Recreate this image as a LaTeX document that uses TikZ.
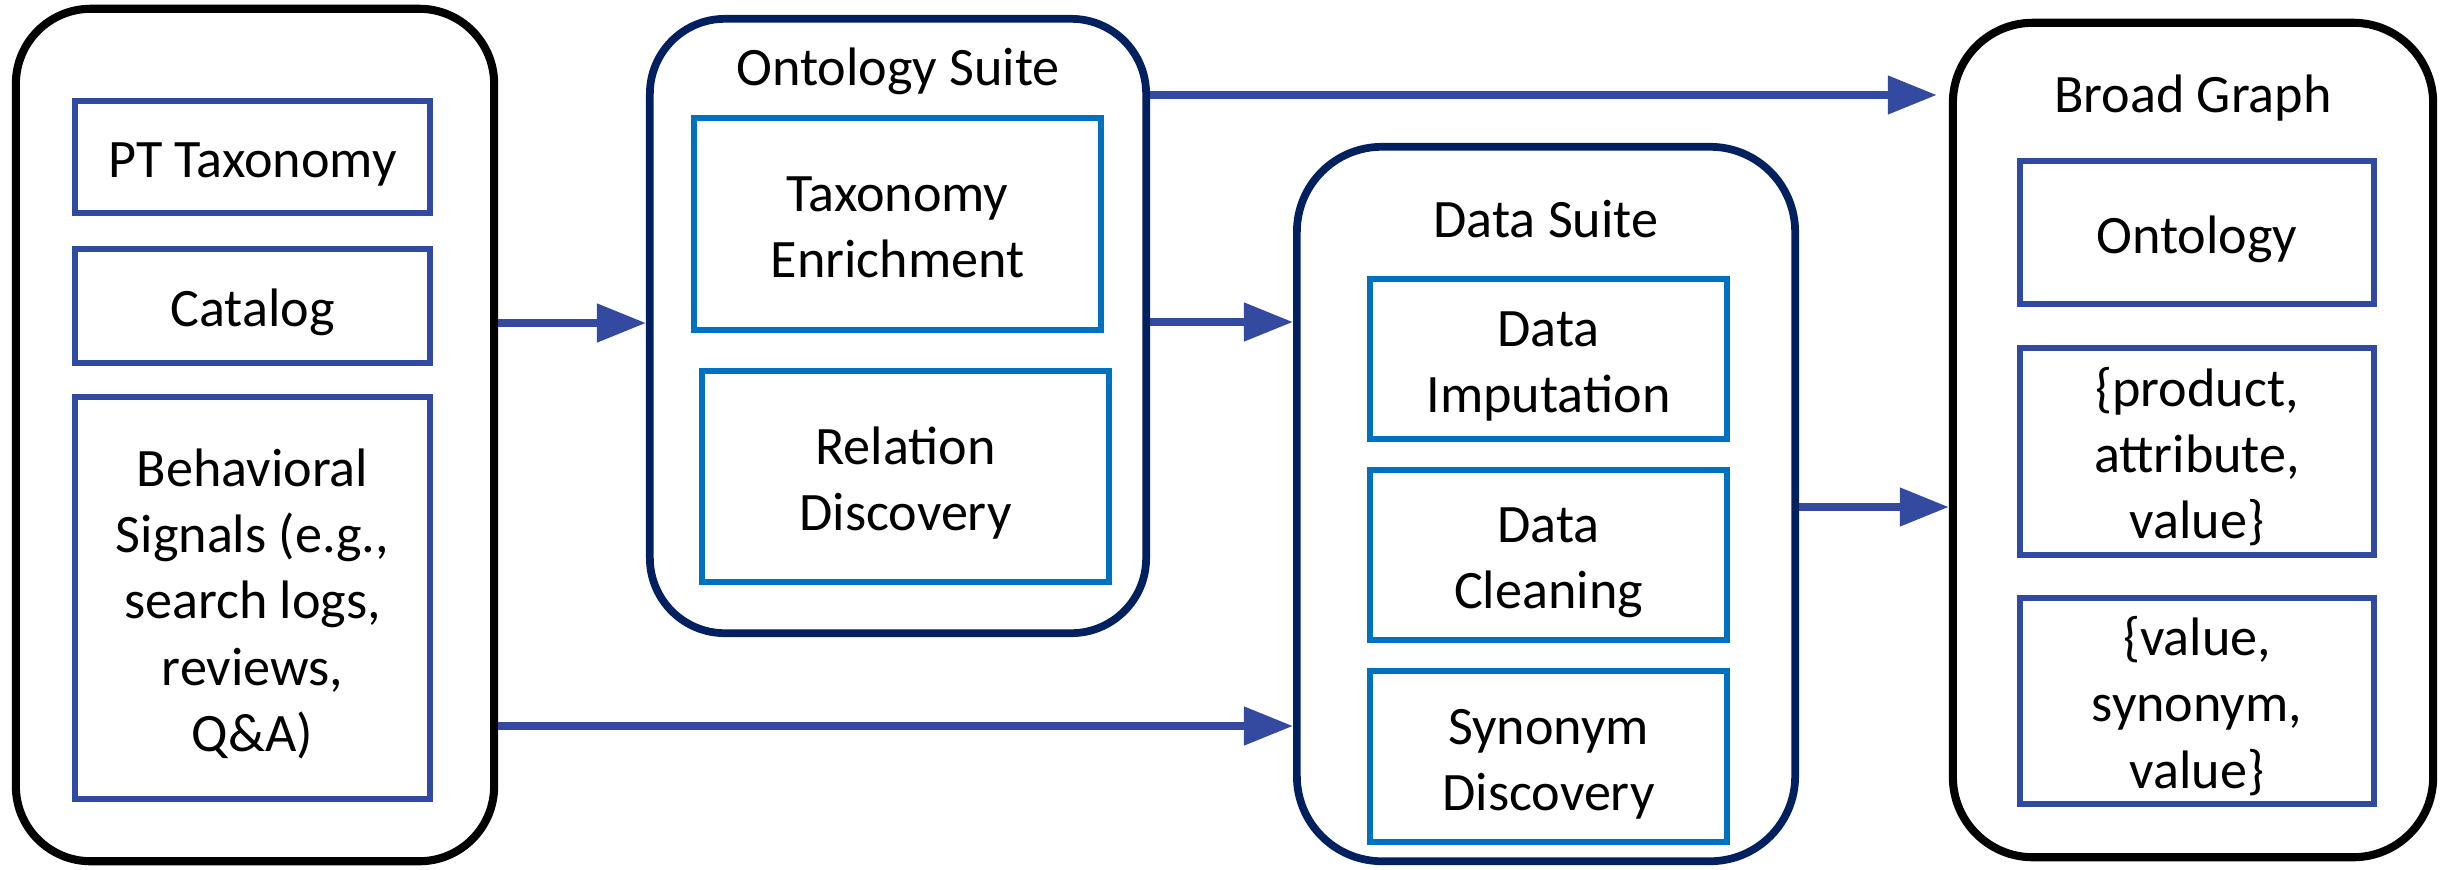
\documentclass[tikz,border=0pt]{standalone}
\usepackage{fontspec}
\setmainfont{Carlito}
\usetikzlibrary{arrows.meta}
\definecolor{arrblue}{HTML}{3449A0}
\definecolor{boxblue}{HTML}{2F4AA0}
\definecolor{midblue}{HTML}{0070C0}
\definecolor{navyblue}{HTML}{002060}
\begin{document}
\begin{tikzpicture}[x=0.01cm,y=-0.01cm,
  every node/.style={font=\fontsize{15.4pt}{18.8pt}\selectfont, align=center, inner sep=0pt},
  blackbox/.style={draw=black, line width=2.3pt, rounded corners=0.75cm},
  navybox/.style={draw=navyblue, line width=2.2pt},
  leftin/.style={draw=boxblue, line width=1.7pt, minimum width=3.55cm},
  midin/.style={draw=midblue, line width=1.5pt},
  one/.style={text height=15.9pt, text depth=4pt},
  two/.style={text height=34.7pt, text depth=4pt},
  three/.style={text height=53.5pt, text depth=4pt},
  five/.style={text height=91.1pt, text depth=4pt},
  arr/.style={draw=arrblue, line width=2.2pt,
    -{Triangle[length=0.49cm,width=0.37cm]}}]
\useasboundingbox (0,0) rectangle (2446,869);
% outer boxes
\node[blackbox, minimum width=4.78cm, minimum height=8.52cm] (L) at (255,435) {};
\node[navybox, rounded corners=0.75cm, minimum width=4.96cm, minimum height=6.14cm] (O) at (898,326) {};
\node[navybox, rounded corners=0.85cm, minimum width=4.98cm, minimum height=7.14cm] (D) at (1546,504) {};
\node[blackbox, rounded corners=0.8cm, minimum width=4.8cm, minimum height=8.34cm] (B) at (2193,440) {};
% titles
\node (Ot) at (898,71) {Ontology Suite};
\node (Dt) at (1546,219) {Data Suite};
\node (Bt) at (2193,98) {Broad Graph};
% left inner
\node[leftin, one, minimum height=1.12cm] (pt) at (252.5,157) {PT Taxonomy};
\node[leftin, one, minimum height=1.14cm] (cat) at (252.5,306) {Catalog};
\node[leftin, five, minimum height=4.02cm] (beh) at (252.5,598) {Behavioral\\Signals (e.g.,\\search logs,\\reviews,\\Q\&A)};
% ontology suite inner
\node[midin, two, minimum width=4.07cm, minimum height=2.12cm] (te) at (897.5,224) {Taxonomy\\Enrichment};
\node[midin, two, minimum width=4.07cm, minimum height=2.11cm] (rd) at (905.5,476.5) {Relation\\Discovery};
% data suite inner
\node[midin, two, minimum width=3.57cm, minimum height=1.6cm] (di) at (1548.5,359) {Data\\Imputation};
\node[midin, two, minimum width=3.57cm, minimum height=1.7cm] (dc) at (1548.5,555) {Data\\Cleaning};
\node[midin, two, minimum width=3.57cm, minimum height=1.71cm] (sd) at (1548.5,756.5) {Synonym\\Discovery};
% broad graph inner
\node[leftin, one, minimum width=3.54cm, minimum height=1.43cm] (bo) at (2197,232.5) {Ontology};
\node[leftin, three, minimum width=3.54cm, minimum height=2.07cm] (bp) at (2197,451.5) {\{product,\\attribute,\\value\}};
\node[leftin, three, minimum width=3.54cm, minimum height=2.06cm] (bv) at (2197,701) {\{value,\\synonym,\\value\}};
% arrows
\draw[arr] (L.east |- 0,323) -- (O.west |- 0,323);
\draw[arr, shorten >=0.12cm] (O.east |- 0,95) -- (B.west |- 0,95);
\draw[arr] (O.east |- 0,322) -- (D.west |- 0,322);
\draw[arr] (L.east |- 0,726) -- (D.west |- 0,726);
\draw[arr] (D.east |- 0,507) -- (B.west |- 0,507);
\end{tikzpicture}
\end{document}
